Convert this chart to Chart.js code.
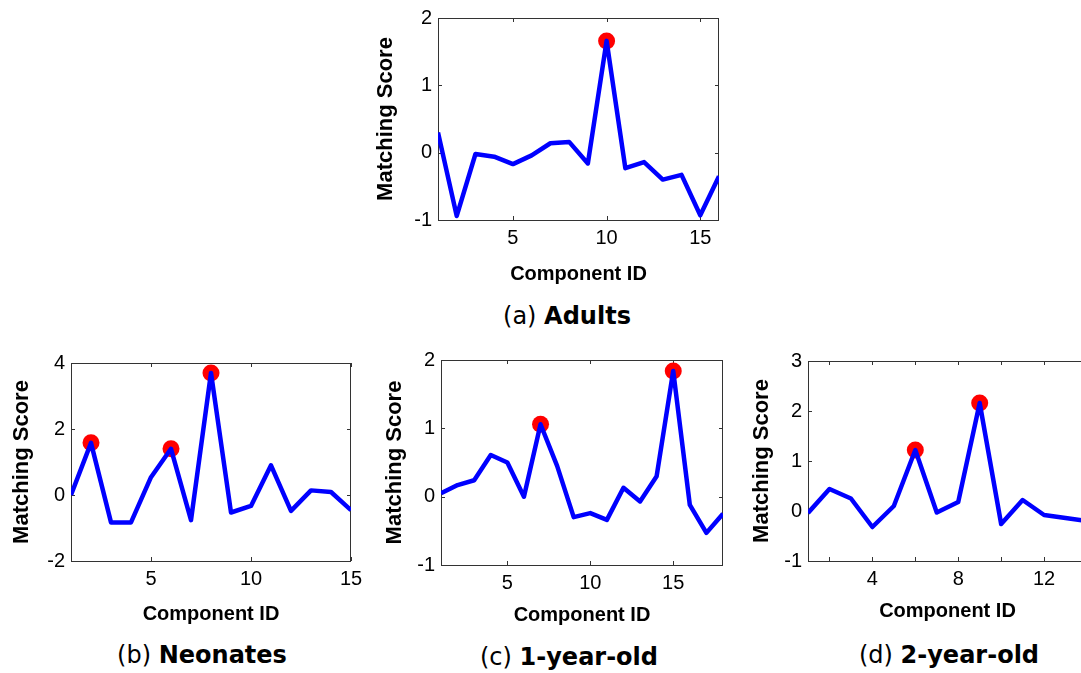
<!DOCTYPE html>
<html>
<head>
<meta charset="utf-8">
<script src="https://cdn.jsdelivr.net/npm/chart.js@4.4.1/dist/chart.umd.min.js"></script>
<style>
html, body { margin: 0; padding: 0; background: #fff; width: 1081px; height: 673px; overflow: hidden; }
body { position: relative; }
canvas { position: absolute; }
.cap { position: absolute; width: 300px; text-align: center; font-family: "DejaVu Sans", sans-serif; font-size: 24px; line-height: 28px; color: #000; white-space: nowrap; }
</style>
</head>
<body>
<canvas id="chartA"></canvas>
<canvas id="chartB"></canvas>
<canvas id="chartC"></canvas>
<canvas id="chartD"></canvas>
<div class="cap" style="left:417px;top:302px">(a) <b>Adults</b></div>
<div class="cap" style="left:52px;top:641px">(b) <b>Neonates</b></div>
<div class="cap" style="left:419px;top:643px">(c) <b>1-year-old</b></div>
<div class="cap" style="left:799px;top:641px">(d) <b>2-year-old</b></div>
<script>
// component ids and matching scores
let adultsIds = [1, 2, 3, 4, 5, 6, 7, 8, 9, 10, 11, 12, 13, 14, 15, 16]
let adultsScores = [0.3, -0.94, -0.02, -0.06, -0.17, -0.04, 0.14, 0.16, -0.16, 1.66, -0.23, -0.14, -0.4, -0.33, -0.93, -0.35]
let adultsPeaks = [10]

let neonatesIds = [1, 2, 3, 4, 5, 6, 7, 8, 9, 10, 11, 12, 13, 14, 15]
let neonatesScores = [0.0, 1.58, -0.83, -0.83, 0.54, 1.4, -0.76, 3.7, -0.53, -0.33, 0.9, -0.48, 0.14, 0.09, -0.46]
let neonatesPeaks = [2, 6, 8]

let oneYearIds = [1, 2, 3, 4, 5, 6, 7, 8, 9, 10, 11, 12, 13, 14, 15, 16, 17, 18]
let oneYearScores = [0.05, 0.17, 0.24, 0.61, 0.5, 0.0, 1.06, 0.45, -0.3, -0.24, -0.34, 0.13, -0.07, 0.3, 1.84, -0.12, -0.53, -0.25]
let oneYearPeaks = [7, 15]

let twoYearIds = [1, 2, 3, 4, 5, 6, 7, 8, 9, 10, 11, 12, 13, 14]
let twoYearScores = [-0.04, 0.44, 0.25, -0.32, 0.1, 1.22, -0.03, 0.18, 2.16, -0.26, 0.22, -0.08, -0.14, -0.2]
let twoYearPeaks = [6, 9]

// tick values
let adultsXTicks = [5, 10, 15], adultsYTicks = [-1, 0, 1, 2]
let neonatesXTicks = [5, 10, 15], neonatesYTicks = [-2, 0, 2, 4]
let oneYearXTicks = [5, 10, 15], oneYearYTicks = [-1, 0, 1, 2]
let twoYearXTicks = [2, 4, 6, 8, 10, 12, 14], twoYearXLabels = [4, 8, 12], twoYearYTicks = [-1, 0, 1, 2, 3]

let xTitle = 'Component ID'
let yTitle = 'Matching Score'

Chart.defaults.font.family = '"Liberation Sans", Arial, sans-serif'
Chart.defaults.color = '#000'

// matlab style box with inward ticks on all four sides
const matlabBox = {
    id: 'matlabBox',
    beforeDatasetsDraw(chart) {
        const { ctx, chartArea: a, scales: { x, y } } = chart
        ctx.save()
        ctx.strokeStyle = '#333'
        ctx.lineWidth = 1
        ctx.beginPath()
        x.ticks.forEach(t => {
            let px = Math.round(x.getPixelForValue(t.value)) + 0.5
            ctx.moveTo(px, a.bottom); ctx.lineTo(px, a.bottom - 4)
            ctx.moveTo(px, a.top); ctx.lineTo(px, a.top + 4)
        })
        y.ticks.forEach(t => {
            let py = Math.round(y.getPixelForValue(t.value)) + 0.5
            ctx.moveTo(a.left, py); ctx.lineTo(a.left + 4, py)
            ctx.moveTo(a.right, py); ctx.lineTo(a.right - 4, py)
        })
        ctx.stroke()
        ctx.strokeRect(Math.round(a.left) + 0.5, Math.round(a.top) + 0.5, Math.round(a.right - a.left) - 1, Math.round(a.bottom - a.top))
        ctx.restore()
    }
}

function buildPanel(canvasId, box, ids, scores, peaks, xTicks, yTicks, xLabels, yTitlePad, xTitlePad) {
    let canvas = document.getElementById(canvasId)
    let w = box.right - box.left + 70 + 20
    let h = box.bottom - box.top + 16 + 70
    canvas.width = w
    canvas.height = h
    canvas.style.left = (box.left - 70) + 'px'
    canvas.style.top = (box.top - 16) + 'px'
    canvas.style.width = w + 'px'
    canvas.style.height = h + 'px'
    return new Chart(canvas, {
        type: 'line',
        data: {
            datasets: [{
                data: ids.map((id, i) => ({ x: id, y: scores[i] })),
                borderColor: '#0000ff',
                borderWidth: 4.5,
                borderJoinStyle: 'round',
                pointRadius: 0,
                tension: 0,
                order: 0
            }, {
                data: peaks.map(id => ({ x: id, y: scores[ids.indexOf(id)] })),
                showLine: false,
                pointRadius: 8.5,
                pointBackgroundColor: '#ff0000',
                pointBorderWidth: 0,
                order: 1
            }]
        },
        options: {
            responsive: false,
            animation: false,
            devicePixelRatio: 1,
            events: [],
            layout: { padding: { top: 16, right: 20, left: 0, bottom: 0 } },
            plugins: { legend: { display: false }, tooltip: { enabled: false } },
            scales: {
                x: {
                    type: 'linear',
                    min: ids[0],
                    max: ids[ids.length - 1],
                    grid: { display: false, drawTicks: false },
                    border: { display: false },
                    afterBuildTicks: s => { s.ticks = xTicks.map(v => ({ value: v })) },
                    afterFit: s => { s.height = 70 },
                    ticks: {
                        padding: 6,
                        font: { size: 20 },
                        maxRotation: 0,
                        autoSkip: false,
                        callback: v => (!xLabels || xLabels.includes(v)) ? String(v) : ''
                    },
                    title: { display: true, text: xTitle, font: { size: 20, weight: 'bold' }, padding: { top: 0, bottom: xTitlePad } }
                },
                y: {
                    type: 'linear',
                    min: yTicks[0],
                    max: yTicks[yTicks.length - 1],
                    grid: { display: false, drawTicks: false },
                    border: { display: false },
                    afterBuildTicks: s => { s.ticks = yTicks.map(v => ({ value: v })) },
                    afterFit: s => { s.width = 70 },
                    ticks: { padding: 6, font: { size: 20 }, autoSkip: false, callback: v => String(v) },
                    title: { display: true, text: yTitle, font: { size: 22, weight: 'bold' }, padding: { top: yTitlePad, bottom: 0 } }
                }
            }
        },
        plugins: [matlabBox]
    })
}

buildPanel('chartA', { left: 438, top: 16, right: 719, bottom: 220 }, adultsIds, adultsScores, adultsPeaks, adultsXTicks, adultsYTicks, null, 5, 4)
buildPanel('chartB', { left: 71, top: 361, right: 351, bottom: 561 }, neonatesIds, neonatesScores, neonatesPeaks, neonatesXTicks, neonatesYTicks, null, 8, 5)
buildPanel('chartC', { left: 441, top: 358, right: 723, bottom: 565 }, oneYearIds, oneYearScores, oneYearPeaks, oneYearXTicks, oneYearYTicks, null, 11, 8)
buildPanel('chartD', { left: 808, top: 359, right: 1087, bottom: 561 }, twoYearIds, twoYearScores, twoYearPeaks, twoYearXTicks, twoYearYTicks, twoYearXLabels, 11, 8)
</script>
</body>
</html>
